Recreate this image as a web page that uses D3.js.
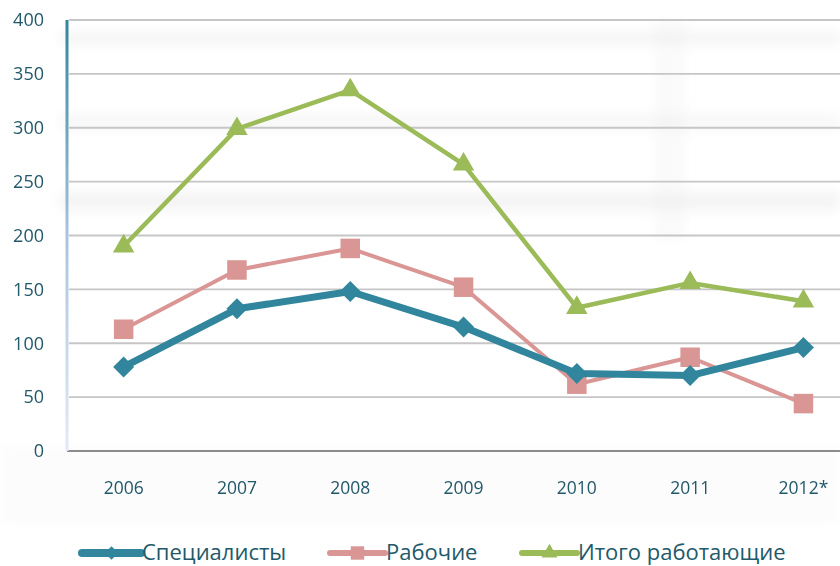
<!DOCTYPE html>
<html>
<head>
<meta charset="utf-8">
<script src="https://cdn.jsdelivr.net/npm/d3@7"></script>
<style>
  body { margin: 0; background: #fff; }
  svg { display: block; font-family: "Open Sans", sans-serif; }
</style>
</head>
<body>
<svg width="840" height="566"></svg>
<script>
let years = ["2006", "2007", "2008", "2009", "2010", "2011", "2012*"];
let specialists = [78, 132, 148, 115, 72, 70, 96];
let workers = [113, 168, 188, 152, 62, 87, 44];
let totalWorking = [190, 299, 335, 266, 133, 156, 139];
let yTicks = [0, 50, 100, 150, 200, 250, 300, 350, 400];
let seriesNames = ["Специалисты", "Рабочие", "Итого работающие"];

let width = 840, height = 566;
let svg = d3.select("svg");

// faint washed-out background picture
let defs = svg.append("defs");
defs.append("filter").attr("id", "blur")
  .append("feGaussianBlur").attr("stdDeviation", 6);
let grad = defs.append("linearGradient").attr("id", "yaxisGrad")
  .attr("x1", 0).attr("x2", 0).attr("y1", 0).attr("y2", 1);
grad.append("stop").attr("offset", "0%").attr("stop-color", "#31859c");
grad.append("stop").attr("offset", "50%").attr("stop-color", "#a9c4e0");
grad.append("stop").attr("offset", "100%").attr("stop-color", "#e3eaf6");

let ghost = svg.append("g").attr("filter", "url(#blur)").attr("fill", "#ececec");
ghost.append("rect").attr("x", 60).attr("y", 32).attr("width", 780).attr("height", 12).attr("opacity", 0.6);
ghost.append("rect").attr("x", 60).attr("y", 114).attr("width", 780).attr("height", 16).attr("opacity", 0.4);
ghost.append("rect").attr("x", 60).attr("y", 192).attr("width", 780).attr("height", 18).attr("opacity", 0.6);
ghost.append("rect").attr("x", 655).attr("y", 20).attr("width", 30).attr("height", 220).attr("opacity", 0.25);
ghost.append("rect").attr("x", 0).attr("y", 445).attr("width", 840).attr("height", 80).attr("opacity", 0.15);

let margin = { left: 67, top: 20, bottom: 451 };

let x = d3.scaleBand().domain(years).range([margin.left, margin.left + 7 * 113.3]);
let y = d3.scaleLinear().domain([0, 400]).range([margin.bottom, margin.top]);
let cx = d => x(d) + x.bandwidth() / 2;

// gridlines
svg.append("g")
  .selectAll("line")
  .data(yTicks.filter(t => t > 0))
  .join("line")
  .attr("x1", margin.left + 2).attr("x2", width)
  .attr("y1", d => y(d)).attr("y2", d => y(d))
  .attr("stroke", "#c6c6c6").attr("stroke-width", 1.8);

// x axis line
svg.append("line")
  .attr("x1", margin.left).attr("x2", width)
  .attr("y1", y(0)).attr("y2", y(0))
  .attr("stroke", "#8c8c8c").attr("stroke-width", 2);

// y axis line with gradient
svg.append("rect")
  .attr("x", margin.left - 1.5).attr("y", y(400))
  .attr("width", 3).attr("height", y(0) - y(400))
  .attr("fill", "url(#yaxisGrad)");

// y tick labels
svg.append("g")
  .selectAll("text")
  .data(yTicks)
  .join("text")
  .attr("x", 44).attr("y", d => y(d))
  .attr("dy", "0.35em")
  .attr("text-anchor", "end")
  .attr("font-size", 18)
  .attr("fill", "#22596a")
  .text(d => d);

// x tick labels
svg.append("g")
  .selectAll("text")
  .data(years)
  .join("text")
  .attr("x", d => cx(d)).attr("y", 488)
  .attr("dy", "0.35em")
  .attr("text-anchor", "middle")
  .attr("font-size", 17.5)
  .attr("fill", "#22596a")
  .text(d => d);

let series = [
  { name: seriesNames[2], values: totalWorking, color: "#9bbb59", width: 4.5, symbol: d3.symbolTriangle, size: 200, rot: 0 },
  { name: seriesNames[1], values: workers, color: "#d99694", width: 4, symbol: d3.symbolSquare, size: 380, rot: 0 },
  { name: seriesNames[0], values: specialists, color: "#31859c", width: 7, symbol: d3.symbolSquare, size: 220, rot: 45 }
];

let line = d3.line()
  .x((d, i) => cx(years[i]))
  .y(d => y(d));

series.forEach(s => {
  let g = svg.append("g");
  g.append("path")
    .attr("d", line(s.values))
    .attr("fill", "none")
    .attr("stroke", s.color)
    .attr("stroke-width", s.width)
    .attr("stroke-linejoin", "round");
  g.selectAll("path.m")
    .data(s.values)
    .join("path")
    .attr("class", "m")
    .attr("d", d3.symbol().type(s.symbol).size(s.size))
    .attr("transform", (d, i) => `translate(${cx(years[i])},${y(d)}) rotate(${s.rot})`)
    .attr("fill", s.color);
});

// legend
svg.append("rect").attr("x", 45).attr("y", 532).attr("width", 780).attr("height", 34).attr("fill", "#fff");
let legendItems = [
  { name: seriesNames[0], color: "#31859c", x0: 82, x1: 141, width: 8, symbol: d3.symbolSquare, size: 90, rot: 45 },
  { name: seriesNames[1], color: "#d99694", x0: 330, x1: 385, width: 6, symbol: d3.symbolSquare, size: 180, rot: 0 },
  { name: seriesNames[2], color: "#9bbb59", x0: 522, x1: 577, width: 6, symbol: d3.symbolTriangle, size: 110, rot: 0 }
];
let ly = 553;
let legend = svg.append("g")
  .selectAll("g")
  .data(legendItems)
  .join("g");
legend.append("line")
  .attr("x1", d => d.x0).attr("x2", d => d.x1)
  .attr("y1", ly).attr("y2", ly)
  .attr("stroke", d => d.color)
  .attr("stroke-width", d => d.width)
  .attr("stroke-linecap", "round");
legend.append("path")
  .attr("d", d => d3.symbol().type(d.symbol).size(d.size)())
  .attr("transform", d => `translate(${(d.x0 + d.x1) / 2},${ly}) rotate(${d.rot})`)
  .attr("fill", d => d.color);
legend.append("text")
  .attr("x", d => d.x1 + 1).attr("y", ly - 1)
  .attr("dy", "0.35em")
  .attr("font-size", 22)
  .attr("fill", "#22596a")
  .text(d => d.name);
</script>
</body>
</html>
